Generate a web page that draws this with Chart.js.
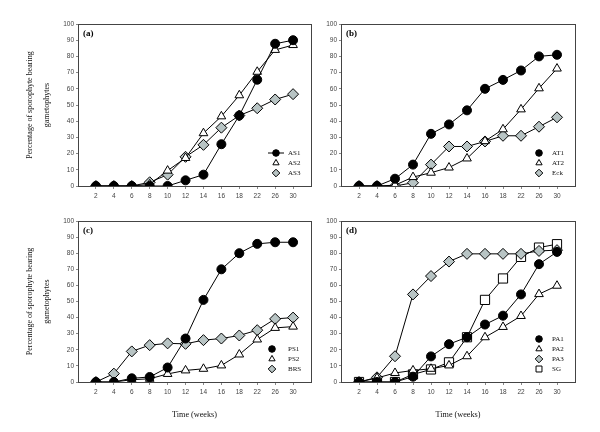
<!DOCTYPE html>
<html>
<head>
<meta charset="utf-8">
<script src="https://cdn.jsdelivr.net/npm/chart.js@4.4.0/dist/chart.umd.min.js"></script>
<style>
  body { margin: 0; background: #fff; width: 600px; height: 432px; position: relative; overflow: hidden; }
  canvas { position: absolute; }
</style>
</head>
<body>
<canvas id="chartA" width="320" height="216" style="left:0;top:0"></canvas>
<canvas id="chartB" width="280" height="216" style="left:320px;top:0"></canvas>
<canvas id="chartC" width="320" height="232" style="left:0;top:200px"></canvas>
<canvas id="chartD" width="280" height="232" style="left:320px;top:200px"></canvas>
<script>
// weeks on the x axis
const weeks = ['2', '4', '6', '8', '10', '12', '14', '16', '18', '22', '26', '30'];

// (a)
const as1 = [0, 0, 0, 0, 0, 3.5, 7, 25.8, 43.5, 65.6, 87.8, 90];
const as2 = [0, 0, 0, 1, 9.5, 17.3, 32.6, 43, 56, 70.5, 84, 87];
const as3 = [0, 0, 0, 2.3, 7, 18, 25.4, 36, 43.5, 48, 53.4, 56.7];
// (b)
const at1 = [0, 0, 4.5, 13.2, 32.2, 38, 46.7, 60, 65.5, 71.3, 80, 81];
const at2 = [0, 0, 0.5, 5.5, 8.2, 11.4, 17, 27.7, 35, 47.3, 60.3, 72.5];
const eck = [0, 0, 0, 2, 13.2, 24.4, 24.4, 27.5, 31, 31, 36.6, 42.4];
// (c)
const ps1 = [0, 0, 2.3, 3.1, 9, 27, 51, 70, 80, 85.8, 86.8, 86.8];
const ps2 = [0, 0, 1.4, 2, 5, 7.2, 8.2, 10.3, 17.1, 26.4, 33.6, 34.4];
const brs = [0, 5.2, 19, 22.9, 24, 23.7, 26, 27, 28.9, 32.2, 39.2, 40];
// (d)
const pa1 = [0, 0, 0, 3.3, 15.9, 23.5, 27.8, 35.7, 41.2, 54.4, 73.2, 80.8];
const pa2 = [0, 2.5, 5.6, 7.2, 8.2, 10.3, 16, 27.8, 34.2, 41, 54.6, 59.8];
const pa3 = [0, 2.9, 16, 54.4, 65.8, 74.8, 79.6, 79.6, 79.6, 79.6, 81.4, 81.9];
const sg = [0, 0, 0, 4.7, 7.8, 12.2, 27.8, 51, 64.3, 77.7, 83.5, 85.6];

const yTitle = ['Percentage of sporophyte bearing', 'gametophytes'];
const GREY = '#b8c4c4';

const markers = {
  circle:   { pointStyle: 'circle',   radius: 4.5, fill: '#000', legendR: 3.3 },
  triangle: { pointStyle: 'triangle', radius: 5,   fill: '#fff', legendR: 3.6 },
  diamond:  { pointStyle: 'rectRot',  radius: 5.5, fill: GREY,   legendR: 3.8 },
  square:   { pointStyle: 'rect',     radius: 6.5, fill: '#fff', legendR: 4.2 }
};

function drawMarker(ctx, kind, x, y, r, fill) {
  ctx.beginPath();
  if (kind === 'circle') {
    ctx.arc(x, y, r, 0, Math.PI * 2);
  } else if (kind === 'triangle') {
    ctx.moveTo(x, y - r);
    ctx.lineTo(x + 0.866 * r, y + 0.5 * r);
    ctx.lineTo(x - 0.866 * r, y + 0.5 * r);
    ctx.closePath();
  } else if (kind === 'diamond') {
    ctx.moveTo(x, y - r); ctx.lineTo(x + r, y); ctx.lineTo(x, y + r); ctx.lineTo(x - r, y);
    ctx.closePath();
  } else {
    const s = r * Math.SQRT1_2;
    ctx.rect(x - s, y - s, 2 * s, 2 * s);
  }
  ctx.fillStyle = fill; ctx.fill();
  ctx.strokeStyle = '#000'; ctx.lineWidth = 1; ctx.stroke();
}

// box round the plot, panel letter and the small legend in the corner
const panelDecor = {
  id: 'panelDecor',
  beforeDatasetsDraw(chart) {
    const { ctx, chartArea: a } = chart;
    ctx.save();
    ctx.strokeStyle = '#444'; ctx.lineWidth = 1;
    ctx.strokeRect(Math.round(a.left) + 0.5, Math.round(a.top) + 0.5, Math.round(a.right - a.left), Math.round(a.bottom - a.top));
    ctx.restore();
  },
  afterDraw(chart, args, opts) {
    const { ctx, chartArea: a } = chart;
    ctx.save();
    ctx.fillStyle = '#000';
    ctx.textBaseline = 'middle';
    ctx.font = 'bold 9px "Liberation Serif"';
    ctx.fillText(opts.tag, a.left + 5, a.top + 10);
    const sets = chart.data.datasets;
    const n = sets.length;
    sets.forEach((ds, i) => {
      const y = a.bottom - 13 - (n - 1 - i) * 10;
      const x = a.right - opts.markerOff;
      const m = markers[ds.kind];
      if (opts.lineFirst && i === 0) {
        ctx.beginPath(); ctx.moveTo(x - 8, y); ctx.lineTo(x + 8, y);
        ctx.strokeStyle = '#000'; ctx.lineWidth = 1; ctx.stroke();
      }
      drawMarker(ctx, ds.kind, x, y, m.legendR, m.fill);
      ctx.fillStyle = '#111';
      ctx.font = '7px "Liberation Serif"';
      ctx.fillText(ds.label, a.right - 23, y);
    });
    ctx.restore();
  }
};

// short outward tick marks, none at the empty ends of the x range
const tickColor = c => (c.tick && (c.tick.value === 0 || c.tick.value === 13)) ? 'rgba(0,0,0,0)' : '#888';

function makePanel(id, tag, series, o) {
  const datasets = series.map(s => {
    const m = markers[s.kind];
    return {
      label: s.label,
      kind: s.kind,
      data: s.values.map((v, i) => ({ x: i + 1, y: v })),
      borderColor: '#000',
      borderWidth: 1,
      pointStyle: m.pointStyle,
      pointRadius: m.radius,
      pointHoverRadius: m.radius,
      pointBackgroundColor: m.fill,
      pointBorderColor: '#000',
      pointBorderWidth: 1,
      tension: 0
    };
  });
  new Chart(document.getElementById(id), {
    type: 'line',
    data: { datasets },
    plugins: [panelDecor],
    options: {
      responsive: false,
      animation: false,
      events: [],
      layout: { padding: { left: 0, top: o.top, right: o.right, bottom: 0 } },
      plugins: {
        legend: { display: false },
        tooltip: { enabled: false },
        panelDecor: { tag, markerOff: o.markerOff, lineFirst: !!o.lineFirst }
      },
      scales: {
        x: {
          type: 'linear', min: 0, max: 13,
          grid: { display: true, drawOnChartArea: false, drawTicks: true, tickLength: 3, color: tickColor },
          border: { display: false },
          afterFit: s => { s.height = o.xHeight; },
          ticks: {
            stepSize: 1, autoSkip: false, padding: 3,
            color: '#444', font: { family: 'Liberation Sans', size: 6.5 },
            callback: v => weeks[v - 1] || ''
          },
          title: {
            display: !!o.xTitle, text: 'Time (weeks)', color: '#111',
            font: { family: 'Liberation Serif', size: 8.2 }, padding: { top: 0, bottom: 12 }
          }
        },
        y: {
          min: 0, max: 100,
          grid: { display: true, drawOnChartArea: false, drawTicks: true, tickLength: 2, color: '#888' },
          border: { display: false },
          afterFit: s => { s.width = o.yWidth; },
          ticks: {
            stepSize: 10, padding: 2,
            color: '#444', font: { family: 'Liberation Sans', size: 6.5 }
          },
          title: {
            display: !!o.yTitle, text: yTitle, color: '#111',
            font: { family: 'Liberation Serif', size: 8, lineHeight: 2.1 },
            padding: { top: 21.5, bottom: 0 }
          }
        }
      }
    }
  });
}

makePanel('chartA', '(a)', [
  { label: 'AS1', kind: 'circle', values: as1 },
  { label: 'AS2', kind: 'triangle', values: as2 },
  { label: 'AS3', kind: 'diamond', values: as3 }
], { top: 24, right: 9, yWidth: 78, xHeight: 30, yTitle: true, markerOff: 35, lineFirst: true });

makePanel('chartB', '(b)', [
  { label: 'AT1', kind: 'circle', values: at1 },
  { label: 'AT2', kind: 'triangle', values: at2 },
  { label: 'Eck', kind: 'diamond', values: eck }
], { top: 24, right: 25, yWidth: 21, xHeight: 30, markerOff: 36 });

makePanel('chartC', '(c)', [
  { label: 'PS1', kind: 'circle', values: ps1 },
  { label: 'PS2', kind: 'triangle', values: ps2 },
  { label: 'BRS', kind: 'diamond', values: brs }
], { top: 21, right: 9, yWidth: 78, xHeight: 50, yTitle: true, xTitle: true, markerOff: 39 });

makePanel('chartD', '(d)', [
  { label: 'PA1', kind: 'circle', values: pa1 },
  { label: 'PA2', kind: 'triangle', values: pa2 },
  { label: 'PA3', kind: 'diamond', values: pa3 },
  { label: 'SG', kind: 'square', values: sg }
], { top: 21, right: 25, yWidth: 21, xHeight: 50, xTitle: true, markerOff: 36 });
</script>
</body>
</html>
